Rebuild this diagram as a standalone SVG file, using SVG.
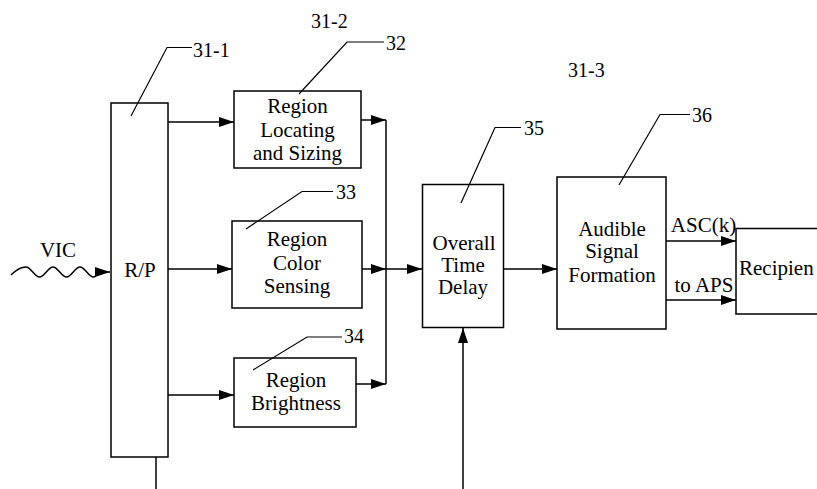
<svg xmlns="http://www.w3.org/2000/svg" width="817" height="489" viewBox="0 0 817 489">
<defs>
<marker id="ah" markerWidth="15" markerHeight="10" refX="15" refY="5" orient="auto" markerUnits="userSpaceOnUse">
<path d="M0,0 L15,5 L0,10 Z" fill="#000"/>
</marker>
<style>
.box{fill:#fff;stroke:#000;stroke-width:1.5}
.ln{fill:none;stroke:#000;stroke-width:1.5}
.ld{fill:none;stroke:#000;stroke-width:1.2}
.t{font-family:"Liberation Serif","Times New Roman",serif;font-size:21px;fill:#000;text-anchor:middle}
.lb{font-family:"Liberation Serif","Times New Roman",serif;font-size:20px;fill:#000}
</style>
</defs>
<rect width="817" height="489" fill="#fff"/>

<g id="connectors">
<path class="ln" d="M11,275 C15,271 20,267 26,267 C31,267 34.5,277 39.5,277 C44.5,277 48,267 53,267 C58,267 61.5,277 66.5,277 C71.5,277 75,267 80,267 C85,267 88.5,277 93.5,277 C96,277 97,273 98,272 L110,272" marker-end="url(#ah)"/>
<line class="ln" x1="168" y1="122" x2="234" y2="122" marker-end="url(#ah)"/>
<line class="ln" x1="168" y1="269" x2="232" y2="269" marker-end="url(#ah)"/>
<line class="ln" x1="168" y1="395" x2="234" y2="395" marker-end="url(#ah)"/>
<line class="ln" x1="361" y1="120" x2="386" y2="120" marker-end="url(#ah)"/>
<line class="ln" x1="362" y1="269" x2="386" y2="269" marker-end="url(#ah)"/>
<line class="ln" x1="356" y1="384" x2="386" y2="384" marker-end="url(#ah)"/>
<line class="ln" x1="386" y1="120" x2="386" y2="384"/>
<line class="ln" x1="386" y1="269" x2="422" y2="269" marker-end="url(#ah)"/>
<line class="ln" x1="503" y1="269" x2="557" y2="269" marker-end="url(#ah)"/>
<line class="ln" x1="463" y1="489" x2="463" y2="328" marker-end="url(#ah)"/>
<line class="ln" x1="156" y1="457" x2="156" y2="489"/>
<line class="ln" x1="666" y1="241" x2="736" y2="241" marker-end="url(#ah)"/>
<line class="ln" x1="666" y1="300" x2="736" y2="300" marker-end="url(#ah)"/>
</g>

<g id="rp">
<rect class="box" x="111" y="103" width="57" height="354"/>
<text class="t" x="140" y="276.5">R/P</text>
</g>

<g id="n32">
<rect class="box" x="234" y="91" width="127" height="77"/>
<text class="t" x="297.5" y="113">Region</text>
<text class="t" x="297.5" y="137">Locating</text>
<text class="t" x="297.5" y="160">and Sizing</text>
</g>

<g id="n33">
<rect class="box" x="232" y="221" width="130" height="87"/>
<text class="t" x="297" y="246">Region</text>
<text class="t" x="297" y="270">Color</text>
<text class="t" x="297" y="293">Sensing</text>
</g>

<g id="n34">
<rect class="box" x="234" y="358" width="122" height="69"/>
<text class="t" x="296" y="387">Region</text>
<text class="t" x="296" y="410">Brightness</text>
</g>

<g id="n35">
<rect class="box" x="422.5" y="184.5" width="81" height="143"/>
<text class="t" x="464" y="250">Overall</text>
<text class="t" x="463" y="272">Time</text>
<text class="t" x="463" y="294">Delay</text>
</g>

<g id="n36">
<rect class="box" x="557" y="177" width="109" height="152"/>
<text class="t" x="612" y="236">Audible</text>
<text class="t" x="612" y="258">Signal</text>
<text class="t" x="612" y="282">Formation</text>
</g>

<g id="recipient">
<rect class="box" x="736" y="228.5" width="100" height="85.5"/>
<text class="lb" x="739" y="275" style="font-size:21px">Recipien</text>
</g>

<g id="leaders">
<polyline class="ld" points="131,116 167,47.5 192,47.5"/>
<polyline class="ld" points="299,94 347,42 384,42"/>
<polyline class="ld" points="246,229 302,191.5 333,191.5"/>
<polyline class="ld" points="253,370 307,337 342,337"/>
<polyline class="ld" points="461,203 495,127.5 521,127.5"/>
<polyline class="ld" points="619,185 660,114.5 690,114.5"/>
</g>

<g id="labels">
<text class="lb" x="193" y="56.5">31-1</text>
<text class="lb" x="311" y="28">31-2</text>
<text class="lb" x="386" y="50">32</text>
<text class="lb" x="336" y="199">33</text>
<text class="lb" x="344" y="343">34</text>
<text class="lb" x="524" y="135">35</text>
<text class="lb" x="692" y="121.5">36</text>
<text class="lb" x="568" y="77">31-3</text>
<text class="t" x="58" y="256.5">VIC</text>
<text class="t" x="703.5" y="231.5">ASC(k)</text>
<text class="t" x="704" y="291.5">to APS</text>
</g>
</svg>
